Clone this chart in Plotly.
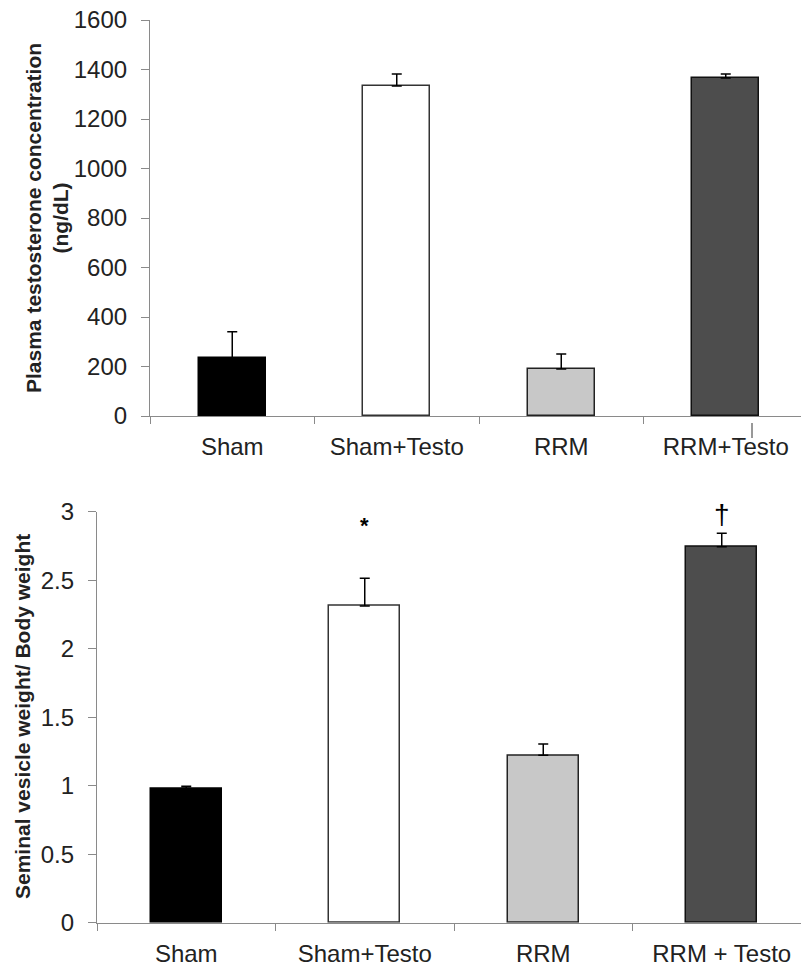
import plotly.graph_objects as go

groups_top = ["Sham", "Sham+Testo", "RRM", "RRM+Testo"]
testo_mean = [235, 1333, 190, 1366]
testo_err = [105, 49, 61, 16]

groups_bot = ["Sham", "Sham+Testo", "RRM", "RRM + Testo"]
svw_mean = [0.981, 2.312, 1.222, 2.745]
svw_err = [0.015, 0.202, 0.082, 0.097]
sig_marks = ["", "*", "", "†"]
sig_y = [None, 2.90, None, 2.98]

bar_colors = ["#000000", "#ffffff", "#c8c8c8", "#4d4d4d"]
line_colors = ["#000000", "#333333", "#222222", "#111111"]

FONT = "Liberation Sans, Arial, sans-serif"
TXT = "#222222"
AX = "#8a8a8a"
W, H = 801, 968


def px(v):
    return v / W


def py(v):
    return 1 - v / H


fig = go.Figure()
fig.add_trace(go.Bar(
    x=groups_top, y=testo_mean, width=0.41,
    marker=dict(color=bar_colors, line=dict(color=line_colors, width=1.5)),
    error_y=dict(type="data", array=testo_err, arrayminus=[0]*4, symmetric=False,
                 color="#000000", thickness=1.5, width=5),
    xaxis="x", yaxis="y", showlegend=False))
fig.add_trace(go.Bar(
    x=groups_bot, y=svw_mean, width=0.40,
    marker=dict(color=bar_colors, line=dict(color=line_colors, width=1.5)),
    error_y=dict(type="data", array=svw_err, arrayminus=[0]*4, symmetric=False,
                 color="#000000", thickness=1.5, width=5),
    xaxis="x2", yaxis="y2", showlegend=False))

# axes geometry (page pixels)
t_left, t_ybot, t_ytop, t_cat = 150, 416, 20, 164.5
b_left, b_ybot, b_ytop, b_cat = 97, 922.7, 511.7, 178.5

common_x = dict(type="category", showline=True, linecolor=AX, linewidth=1.2,
                ticks="outside", tickson="boundaries", ticklen=7, tickcolor=AX,
                showgrid=False, zeroline=False, automargin=False,
                ticklabelstandoff=9, ticklabeloverflow="allow",
                tickfont=dict(family=FONT, size=24, color=TXT), fixedrange=True)
common_y = dict(showline=True, linecolor=AX, linewidth=1.2, ticks="outside",
                ticklen=8, tickcolor=AX, showgrid=False, zeroline=False,
                automargin=False, ticklabelstandoff=9, ticklabeloverflow="allow",
                tickfont=dict(family=FONT, size=24, color=TXT), fixedrange=True)

fig.update_layout(
    width=W, height=H, margin=dict(l=0, r=0, t=0, b=0),
    paper_bgcolor="white", plot_bgcolor="white",
    bargap=0, hovermode=False,
    xaxis=dict(common_x, domain=[px(t_left), 1],
               range=[-0.5, -0.5 + (W - t_left) / t_cat], anchor="y"),
    yaxis=dict(common_y, domain=[py(t_ybot), py(t_ytop)], range=[0, 1600],
               dtick=200, anchor="x"),
    xaxis2=dict(common_x, domain=[px(b_left), 1],
                range=[-0.5, -0.5 + (W - b_left) / b_cat], anchor="y2"),
    yaxis2=dict(common_y, domain=[py(b_ybot), py(b_ytop)], range=[0, 3],
                dtick=0.5, anchor="x2"),
)

# y-axis titles
fig.add_annotation(x=px(47), y=py(218), xref="paper", yref="paper",
                   text="<b>Plasma testosterone concentration<br>(ng/dL)</b>",
                   textangle=-90, showarrow=False, xanchor="center", yanchor="middle",
                   font=dict(family=FONT, size=21, color=TXT))
fig.add_annotation(x=px(22), y=py(717), xref="paper", yref="paper",
                   text="<b>Seminal vesicle weight/ Body weight</b>",
                   textangle=-90, showarrow=False, xanchor="center", yanchor="middle",
                   font=dict(family=FONT, size=21, color=TXT))

for g, m, yv in zip(groups_bot, sig_marks, sig_y):
    if m:
        fig.add_annotation(x=g, y=yv, xref="x2", yref="y2",
                           text=m if m == "†" else "<b>" + m + "</b>",
                           showarrow=False, yanchor="middle",
                           font=dict(family=FONT, size=28 if m == "†" else 22, color="#000000"))

# small stray tick seen in the source image
fig.add_shape(type="line", xref="paper", yref="paper",
              x0=px(752), x1=px(752), y0=py(423), y1=py(438),
              line=dict(color="#333333", width=1))

fig.write_html("out.html", config={"displayModeBar": False},
               post_script="document.body.style.margin='0';document.body.style.overflow='hidden';")
